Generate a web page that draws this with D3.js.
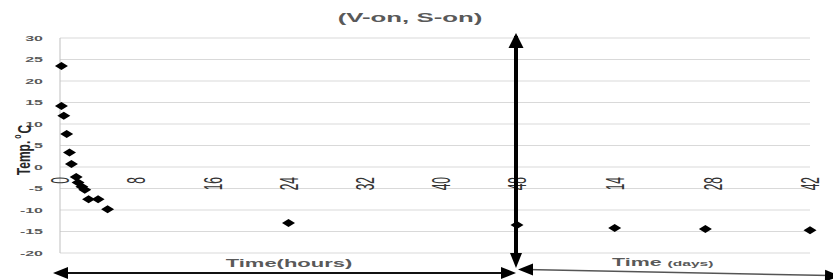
<!DOCTYPE html>
<html>
<head>
<meta charset="utf-8">
<script src="https://cdn.jsdelivr.net/npm/d3@7"></script>
<style>
  body { margin: 0; background: #fff; }
  svg { display: block; font-family: "Liberation Sans", Arial, sans-serif; }
</style>
</head>
<body>
<div class="chart"></div>
<script>
var width = 833, height = 280;

// data
var hourTimes = [0.15, 0.15, 0.4, 0.7, 1.0, 1.2, 1.7, 1.9, 2.3, 2.6, 3.0, 4.0, 5.0, 24, 48];
var hourTemps = [23.5, 14.2, 11.9, 7.7, 3.4, 0.7, -2.3, -3.6, -4.6, -5.3, -7.5, -7.5, -9.8, -13.0, -13.5];
var dayTimes = [14, 27, 42];
var dayTemps = [-14.2, -14.4, -14.7];
var yTicks = [-20, -15, -10, -5, 0, 5, 10, 15, 20, 25, 30];
var hourTicks = [0, 8, 16, 24, 32, 40, 48];
var dayTicks = [14, 28, 42];

var svg = d3.select('.chart')
	.append('svg')
	.attr('width', width)
	.attr('height', height);

var y = d3.scaleLinear().domain([-20, 30]).range([253, 38]);
var xh = d3.scaleLinear().domain([0, 48]).range([60, 517]);
var xd = d3.scaleLinear().domain([0, 42]).range([517, 810]);

var grey = '#595959';

// gridlines
svg.append('g')
	.selectAll('line')
	.data(yTicks)
	.enter().append('line')
	.attr('x1', xh(0))
	.attr('x2', xd(42))
	.attr('y1', function(d) { return y(d); })
	.attr('y2', function(d) { return y(d); })
	.attr('stroke', '#d9d9d9')
	.attr('stroke-width', 1);

// y axis line
svg.append('line')
	.attr('x1', xh(0)).attr('x2', xh(0))
	.attr('y1', y(30)).attr('y2', y(-20))
	.attr('stroke', '#bfbfbf');

// y tick labels (picture is stretched sideways, so stretch the text too)
svg.append('g')
	.selectAll('text')
	.data(yTicks)
	.enter().append('text')
	.attr('transform', function(d) { return 'translate(43,' + y(d) + ') scale(2,1)'; })
	.attr('text-anchor', 'end')
	.attr('dy', '0.35em')
	.attr('font-size', 8)
	.attr('font-weight', 'bold')
	.attr('fill', grey)
	.text(function(d) { return d; });

// x tick labels, rotated
function tickLabel(x, label) {
	svg.append('text')
		.attr('transform', 'translate(' + x + ',177) scale(2.2,1) rotate(-90)')
		.attr('text-anchor', 'end')
		.attr('dy', '0.35em')
		.attr('font-size', 12)
		.attr('fill', '#333')
		.text(label);
}
hourTicks.forEach(function(t) { tickLabel(xh(t), t); });
dayTicks.forEach(function(t) { tickLabel(xd(t), t); });

// title
svg.append('text')
	.attr('transform', 'translate(410,22) scale(2.15,1)')
	.attr('text-anchor', 'middle')
	.attr('font-size', 12)
	.attr('font-weight', 'bold')
	.attr('fill', grey)
	.text('(V-on, S-on)');

// y title
var yt = svg.append('text')
	.attr('transform', 'translate(24,150) scale(1.5,1) rotate(-90)')
	.attr('text-anchor', 'middle')
	.attr('dy', '0.35em')
	.attr('font-size', 12)
	.attr('font-weight', 'bold')
	.attr('fill', '#262626');
yt.append('tspan').text('Temp.');
yt.append('tspan').attr('font-size', 7).attr('dy', '-0.9em').attr('dx', 2).text('o');
yt.append('tspan').attr('dy', '0.55em').attr('dx', 1).text('C');

// x titles
svg.append('text')
	.attr('transform', 'translate(289,267) scale(2,1)')
	.attr('text-anchor', 'middle')
	.attr('font-size', 11)
	.attr('font-weight', 'bold')
	.attr('fill', grey)
	.text('Time(hours)');

var dt = svg.append('text')
	.attr('transform', 'translate(612,266) scale(1.95,1)')
	.attr('font-size', 11)
	.attr('font-weight', 'bold')
	.attr('fill', grey);
dt.append('tspan').text('Time ');
dt.append('tspan').attr('font-size', 8).text('(days)');

// markers
var diamond = 'M0,-4L6.5,0L0,4L-6.5,0Z';
var pts = hourTimes.map(function(t, i) { return [xh(t), y(hourTemps[i])]; })
	.concat(dayTimes.map(function(t, i) { return [xd(t), y(dayTemps[i])]; }));

svg.append('g')
	.selectAll('path')
	.data(pts)
	.enter().append('path')
	.attr('d', diamond)
	.attr('transform', function(d) { return 'translate(' + d[0] + ',' + d[1] + ')'; })
	.attr('fill', 'black');

// arrows
function head(tipX, tipY, angle, len, half, color) {
	var a = angle * Math.PI / 180;
	var bx = tipX - len * Math.cos(a), by = tipY - len * Math.sin(a);
	var px = -Math.sin(a) * half, py = Math.cos(a) * half;
	svg.append('path')
		.attr('d', 'M' + tipX + ',' + tipY + 'L' + (bx + px) + ',' + (by + py) + 'L' + (bx - px) + ',' + (by - py) + 'Z')
		.attr('fill', color);
}

var xSplit = xh(48) - 1;

// bottom left arrow (hours)
svg.append('line')
	.attr('x1', xh(0) - 2).attr('x2', xSplit - 8)
	.attr('y1', 273).attr('y2', 273)
	.attr('stroke', '#111').attr('stroke-width', 2);
head(53, 273, 180, 15, 6, '#000');
head(xSplit, 273, 0, 15, 6, '#000');

// bottom right arrow (days)
svg.append('line')
	.attr('x1', xSplit + 10).attr('x2', 830)
	.attr('y1', 269.5).attr('y2', 275.5)
	.attr('stroke', '#555').attr('stroke-width', 1.5);
head(xSplit + 2, 269.5, 180, 15, 6, '#000');
head(840, 276, 1.1, 15, 6, '#000');

// vertical split arrow
svg.append('line')
	.attr('x1', xSplit).attr('x2', xSplit)
	.attr('y1', y(30) - 2).attr('y2', 256)
	.attr('stroke', '#000').attr('stroke-width', 4);
head(xSplit, 33, -90, 15, 7.5, '#000');
head(xSplit, 268, 90, 15, 6, '#000');
</script>
</body>
</html>
